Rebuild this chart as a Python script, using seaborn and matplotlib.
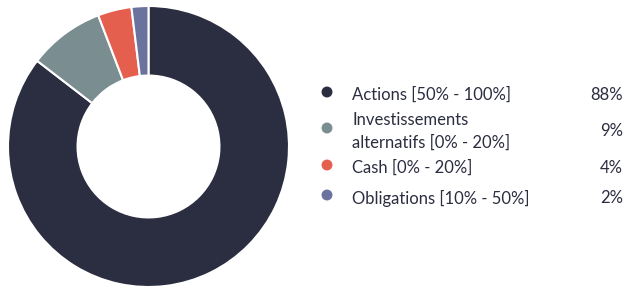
import matplotlib
matplotlib.use('Agg')
import matplotlib.pyplot as plt
import seaborn as sns

# ── Data ─────────────────────────────────────────────────────────────────────
labels = ['Actions [50% - 100%]',
          'Investissements\nalternatifs [0% - 20%]',
          'Cash [0% - 20%]',
          'Obligations [10% - 50%]']
values = [88, 9, 4, 2]
pct_labels = ['88%', '9%', '4%', '2%']
colors = ['#2b2d40', '#7a8d90', '#e55f4f', '#6a739d']

# ── Style ────────────────────────────────────────────────────────────────────
sns.set_theme(style='white')
plt.rcParams['font.family'] = ['Lato', 'DejaVu Sans']
TXT = '#2b2d40'

W, H = 627, 291
fig = plt.figure(figsize=(W / 100, H / 100), dpi=100)

# ── Donut ────────────────────────────────────────────────────────────────────
cx, cy, r = 148.5, 146.5, 140.5
ax = fig.add_axes([(cx - r) / W, (H - cy - r) / H, 2 * r / W, 2 * r / H])
ax.pie(values, colors=colors, startangle=90, counterclock=False,
       wedgeprops=dict(width=0.495, edgecolor='white', linewidth=1.5))
ax.set_xlim(-1, 1)
ax.set_ylim(-1, 1)
ax.set_aspect('equal')
ax.axis('off')

# ── Legend ───────────────────────────────────────────────────────────────────
lg = fig.add_axes([0, 0, 1, 1])
lg.set_xlim(0, W)
lg.set_ylim(H, 0)
lg.axis('off')

row_y = [95, 131, 168, 198]
for y, lab, pct, col in zip(row_y, labels, pct_labels, colors):
    lg.scatter([327], [y - 3], s=62, color=col, edgecolors='none')
    lg.text(352, y, lab, ha='left', va='center', fontsize=12,
            color=TXT, linespacing=1.5)
    lg.text(623, y, pct, ha='right', va='center', fontsize=12, color=TXT)

fig.savefig('out.png', dpi=100)
